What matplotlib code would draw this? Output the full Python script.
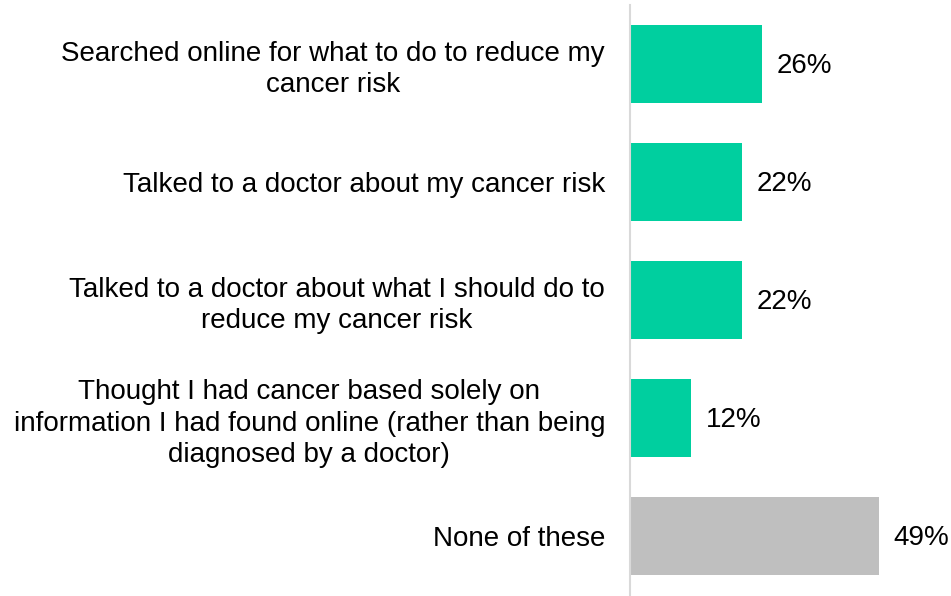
#!/usr/bin/env python3

import matplotlib
matplotlib.use("Agg")
import matplotlib.pyplot as plt

categories = [
    "Searched online for what to do to reduce my\ncancer risk",
    "Talked to a doctor about my cancer risk",
    "Talked to a doctor about what I should do to\nreduce my cancer risk",
    "Thought I had cancer based solely on\ninformation I had found online (rather than being\ndiagnosed by a doctor)",
    "None of these",
]
values = [26, 22, 22, 12, 49]
colors = ["#00CF9F", "#00CF9F", "#00CF9F", "#00CF9F", "#BFBFBF"]

plt.rcParams['font.family'] = ['Liberation Sans', 'DejaVu Sans']

W, H = 951, 596
FS = 20
fig = plt.figure(figsize=(W / 100, H / 100), dpi=100)
ax = fig.add_axes([630 / W, 1 - 595 / H, (W - 630) / W, 590 / H])

pos = list(range(len(values)))
ax.barh(pos, values, height=0.66, color=colors)
ax.set_ylim(4.5, -0.5)
ax.set_xlim(0, (W - 630) / ((879 - 630) / 49))

for p, v in zip(pos, values):
    ax.text(v + 2.9, p + 0.02, f"{v}%", va='center', ha='left', fontsize=FS)

ax.set_yticks(pos)
ax.set_yticklabels(categories, fontsize=FS, multialignment='center',
                   linespacing=1.27)
ax.tick_params(axis='y', length=0, pad=18)
ax.set_xticks([])
for side in ['top', 'right', 'bottom']:
    ax.spines[side].set_visible(False)
ax.spines['left'].set_color('#D9D9D9')
ax.spines['left'].set_linewidth(1.5)

fig.savefig("out.png", dpi=100)
